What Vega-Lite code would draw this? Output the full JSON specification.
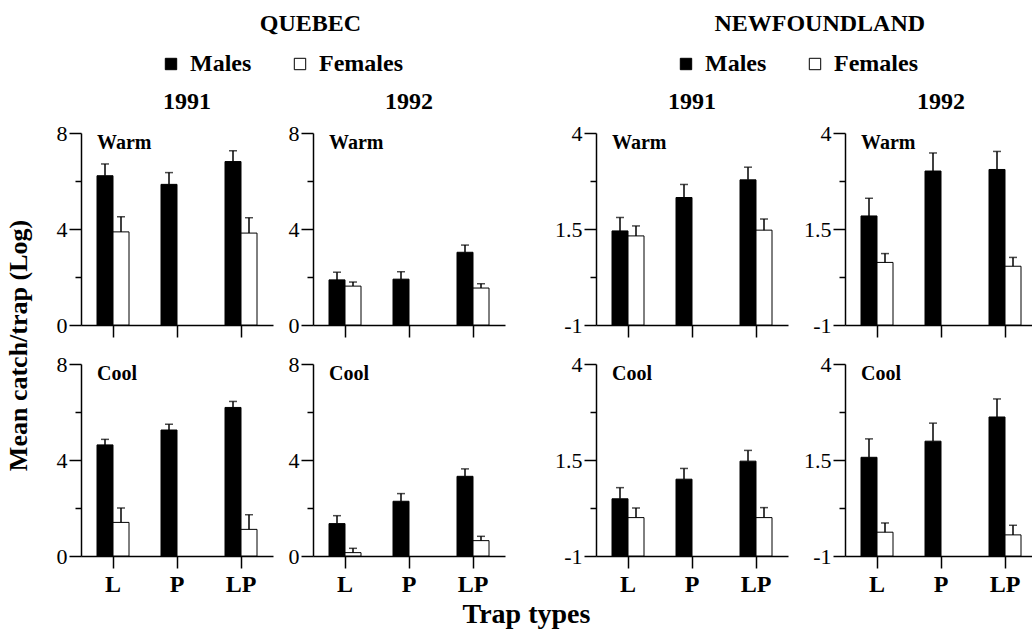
{
  "$schema": "https://vega.github.io/schema/vega-lite/v6.json",
  "padding": {"left": 5, "top": 12, "right": 0, "bottom": 2},
  "background": "white",
  "datasets": {
    "catch": [
      {"region": "QUEBEC", "year": "1991", "temp": "Warm", "trap": "L", "sex": "Males", "mean": 6.22, "upper": 6.71},
      {"region": "QUEBEC", "year": "1991", "temp": "Warm", "trap": "L", "sex": "Females", "mean": 3.88, "upper": 4.51},
      {"region": "QUEBEC", "year": "1991", "temp": "Warm", "trap": "P", "sex": "Males", "mean": 5.86, "upper": 6.35},
      {"region": "QUEBEC", "year": "1991", "temp": "Warm", "trap": "LP", "sex": "Males", "mean": 6.81, "upper": 7.26},
      {"region": "QUEBEC", "year": "1991", "temp": "Warm", "trap": "LP", "sex": "Females", "mean": 3.83, "upper": 4.47},
      {"region": "QUEBEC", "year": "1992", "temp": "Warm", "trap": "L", "sex": "Males", "mean": 1.88, "upper": 2.2},
      {"region": "QUEBEC", "year": "1992", "temp": "Warm", "trap": "L", "sex": "Females", "mean": 1.62, "upper": 1.79},
      {"region": "QUEBEC", "year": "1992", "temp": "Warm", "trap": "P", "sex": "Males", "mean": 1.91, "upper": 2.22},
      {"region": "QUEBEC", "year": "1992", "temp": "Warm", "trap": "LP", "sex": "Males", "mean": 3.03, "upper": 3.33},
      {"region": "QUEBEC", "year": "1992", "temp": "Warm", "trap": "LP", "sex": "Females", "mean": 1.54, "upper": 1.72},
      {"region": "QUEBEC", "year": "1991", "temp": "Cool", "trap": "L", "sex": "Males", "mean": 4.63, "upper": 4.86},
      {"region": "QUEBEC", "year": "1991", "temp": "Cool", "trap": "L", "sex": "Females", "mean": 1.4, "upper": 2.0},
      {"region": "QUEBEC", "year": "1991", "temp": "Cool", "trap": "P", "sex": "Males", "mean": 5.25, "upper": 5.49},
      {"region": "QUEBEC", "year": "1991", "temp": "Cool", "trap": "LP", "sex": "Males", "mean": 6.19, "upper": 6.44},
      {"region": "QUEBEC", "year": "1991", "temp": "Cool", "trap": "LP", "sex": "Females", "mean": 1.11, "upper": 1.72},
      {"region": "QUEBEC", "year": "1992", "temp": "Cool", "trap": "L", "sex": "Males", "mean": 1.35, "upper": 1.68},
      {"region": "QUEBEC", "year": "1992", "temp": "Cool", "trap": "L", "sex": "Females", "mean": 0.14, "upper": 0.32},
      {"region": "QUEBEC", "year": "1992", "temp": "Cool", "trap": "P", "sex": "Males", "mean": 2.28, "upper": 2.6},
      {"region": "QUEBEC", "year": "1992", "temp": "Cool", "trap": "LP", "sex": "Males", "mean": 3.32, "upper": 3.63},
      {"region": "QUEBEC", "year": "1992", "temp": "Cool", "trap": "LP", "sex": "Females", "mean": 0.64, "upper": 0.82},
      {"region": "NEWFOUNDLAND", "year": "1991", "temp": "Warm", "trap": "L", "sex": "Males", "mean": 1.45, "upper": 1.8},
      {"region": "NEWFOUNDLAND", "year": "1991", "temp": "Warm", "trap": "L", "sex": "Females", "mean": 1.32, "upper": 1.58},
      {"region": "NEWFOUNDLAND", "year": "1991", "temp": "Warm", "trap": "P", "sex": "Males", "mean": 2.32, "upper": 2.66},
      {"region": "NEWFOUNDLAND", "year": "1991", "temp": "Warm", "trap": "LP", "sex": "Males", "mean": 2.78, "upper": 3.11},
      {"region": "NEWFOUNDLAND", "year": "1991", "temp": "Warm", "trap": "LP", "sex": "Females", "mean": 1.47, "upper": 1.76},
      {"region": "NEWFOUNDLAND", "year": "1992", "temp": "Warm", "trap": "L", "sex": "Males", "mean": 1.84, "upper": 2.3},
      {"region": "NEWFOUNDLAND", "year": "1992", "temp": "Warm", "trap": "L", "sex": "Females", "mean": 0.63, "upper": 0.86},
      {"region": "NEWFOUNDLAND", "year": "1992", "temp": "Warm", "trap": "P", "sex": "Males", "mean": 3.01, "upper": 3.48},
      {"region": "NEWFOUNDLAND", "year": "1992", "temp": "Warm", "trap": "LP", "sex": "Males", "mean": 3.05, "upper": 3.52},
      {"region": "NEWFOUNDLAND", "year": "1992", "temp": "Warm", "trap": "LP", "sex": "Females", "mean": 0.53, "upper": 0.76},
      {"region": "NEWFOUNDLAND", "year": "1991", "temp": "Cool", "trap": "L", "sex": "Males", "mean": 0.49, "upper": 0.78},
      {"region": "NEWFOUNDLAND", "year": "1991", "temp": "Cool", "trap": "L", "sex": "Females", "mean": 0.0, "upper": 0.25},
      {"region": "NEWFOUNDLAND", "year": "1991", "temp": "Cool", "trap": "P", "sex": "Males", "mean": 1.0, "upper": 1.28},
      {"region": "NEWFOUNDLAND", "year": "1991", "temp": "Cool", "trap": "LP", "sex": "Males", "mean": 1.47, "upper": 1.75},
      {"region": "NEWFOUNDLAND", "year": "1991", "temp": "Cool", "trap": "LP", "sex": "Females", "mean": 0.0, "upper": 0.26},
      {"region": "NEWFOUNDLAND", "year": "1992", "temp": "Cool", "trap": "L", "sex": "Males", "mean": 1.57, "upper": 2.05},
      {"region": "NEWFOUNDLAND", "year": "1992", "temp": "Cool", "trap": "L", "sex": "Females", "mean": -0.38, "upper": -0.14},
      {"region": "NEWFOUNDLAND", "year": "1992", "temp": "Cool", "trap": "P", "sex": "Males", "mean": 1.99, "upper": 2.46},
      {"region": "NEWFOUNDLAND", "year": "1992", "temp": "Cool", "trap": "LP", "sex": "Males", "mean": 2.62, "upper": 3.09},
      {"region": "NEWFOUNDLAND", "year": "1992", "temp": "Cool", "trap": "LP", "sex": "Females", "mean": -0.45, "upper": -0.2}
    ]
  },
  "data": {"name": "catch"},
  "title": {"text": "Mean catch/trap (Log)", "orient": "left", "anchor": "middle", "fontSize": 26, "offset": 24, "dx": -25},
  "vconcat": [
    {
      "title": {"text": "Trap types", "orient": "bottom", "anchor": "middle", "fontSize": 28, "offset": 5, "dx": -20},
      "spacing": 49,
      "resolve": {"legend": {"fill": "independent"}, "scale": {"fill": "independent"}},
      "hconcat": [
        {
          "title": {"text": "QUEBEC", "anchor": "middle", "fontSize": 24, "offset": 16, "dx": 30},
          "spacing": 15,
          "vconcat": [
            {
              "spacing": 15,
              "hconcat": [
                {
                  "width": 192, "height": 192,
                  "title": {"text": "1991", "fontSize": 24, "anchor": "middle", "offset": 8, "dx": 10},
                  "transform": [{"filter": "datum.region === 'QUEBEC' && datum.year === '1991' && datum.temp === 'Warm'"}],
                  "encoding": {
                    "x": {"field": "trap", "type": "nominal", "scale": {"domain": ["L", "P", "LP"], "paddingInner": 0, "paddingOuter": 0}, "axis": {"title": null, "labels": false, "tickSize": 12}},
                    "xOffset": {"field": "sex", "type": "nominal", "scale": {"domain": ["Males", "Females"], "paddingInner": 0, "paddingOuter": 1}}
                  },
                  "layer": [
                    {"mark": {"type": "bar", "stroke": "black", "strokeWidth": 1},
                     "encoding": {
                       "y": {"field": "mean", "type": "quantitative", "scale": {"domain": [0, 8], "nice": false}, "axis": {"title": null, "values": [0, 2, 4, 6, 8], "labelExpr": "datum.value % 4 === 0 ? datum.label : ''", "tickSize": {"condition": {"test": "datum.value % 4 === 0", "value": 12}, "value": 6}}},
                       "fill": {"field": "sex", "type": "nominal", "scale": {"domain": ["Males", "Females"], "range": ["black", "white"]}, "legend": {"title": null, "orient": "top", "offset": 14, "direction": "horizontal", "symbolType": "square", "symbolSize": 130, "symbolStrokeColor": "black", "symbolStrokeWidth": 1, "labelFont": "Liberation Serif", "labelFontSize": 24, "labelFontWeight": "bold", "columnPadding": 36, "labelOffset": 7}}
                     }},
                    {"mark": {"type": "rule", "color": "black", "strokeWidth": 1.5}, "encoding": {"y": {"field": "mean", "type": "quantitative"}, "y2": {"field": "upper"}}},
                    {"mark": {"type": "tick", "color": "black", "thickness": 1.5, "size": 8}, "encoding": {"y": {"field": "upper", "type": "quantitative"}}},
                    {"transform": [{"filter": "datum.trap === 'L' && datum.sex === 'Males'"}], "mark": {"type": "text", "align": "left", "baseline": "top", "fontWeight": "bold", "fontSize": 20, "dx": -8, "dy": 0}, "encoding": {"y": {"datum": 8}, "text": {"field": "temp"}}}
                  ]
                },
                {
                  "width": 192, "height": 192,
                  "title": {"text": "1992", "fontSize": 24, "anchor": "middle", "offset": 8},
                  "transform": [{"filter": "datum.region === 'QUEBEC' && datum.year === '1992' && datum.temp === 'Warm'"}],
                  "encoding": {
                    "x": {"field": "trap", "type": "nominal", "scale": {"domain": ["L", "P", "LP"], "paddingInner": 0, "paddingOuter": 0}, "axis": {"title": null, "labels": false, "tickSize": 12}},
                    "xOffset": {"field": "sex", "type": "nominal", "scale": {"domain": ["Males", "Females"], "paddingInner": 0, "paddingOuter": 1}}
                  },
                  "layer": [
                    {"mark": {"type": "bar", "stroke": "black", "strokeWidth": 1},
                     "encoding": {
                       "y": {"field": "mean", "type": "quantitative", "scale": {"domain": [0, 8], "nice": false}, "axis": {"title": null, "values": [0, 2, 4, 6, 8], "labelExpr": "datum.value % 4 === 0 ? datum.label : ''", "tickSize": {"condition": {"test": "datum.value % 4 === 0", "value": 12}, "value": 6}}},
                       "fill": {"field": "sex", "type": "nominal", "scale": {"domain": ["Males", "Females"], "range": ["black", "white"]}}
                     }},
                    {"mark": {"type": "rule", "color": "black", "strokeWidth": 1.5}, "encoding": {"y": {"field": "mean", "type": "quantitative"}, "y2": {"field": "upper"}}},
                    {"mark": {"type": "tick", "color": "black", "thickness": 1.5, "size": 8}, "encoding": {"y": {"field": "upper", "type": "quantitative"}}},
                    {"transform": [{"filter": "datum.trap === 'L' && datum.sex === 'Males'"}], "mark": {"type": "text", "align": "left", "baseline": "top", "fontWeight": "bold", "fontSize": 20, "dx": -8, "dy": 0}, "encoding": {"y": {"datum": 8}, "text": {"field": "temp"}}}
                  ]
                }
              ]
            },
            {
              "spacing": 15,
              "hconcat": [
                {
                  "width": 192, "height": 192,
                  "transform": [{"filter": "datum.region === 'QUEBEC' && datum.year === '1991' && datum.temp === 'Cool'"}],
                  "encoding": {
                    "x": {"field": "trap", "type": "nominal", "scale": {"domain": ["L", "P", "LP"], "paddingInner": 0, "paddingOuter": 0}, "axis": {"title": null, "labelAngle": 0, "tickSize": 12, "labelFontSize": 24, "labelFontWeight": "bold", "labelPadding": 4}},
                    "xOffset": {"field": "sex", "type": "nominal", "scale": {"domain": ["Males", "Females"], "paddingInner": 0, "paddingOuter": 1}}
                  },
                  "layer": [
                    {"mark": {"type": "bar", "stroke": "black", "strokeWidth": 1},
                     "encoding": {
                       "y": {"field": "mean", "type": "quantitative", "scale": {"domain": [0, 8], "nice": false}, "axis": {"title": null, "values": [0, 2, 4, 6, 8], "labelExpr": "datum.value % 4 === 0 ? datum.label : ''", "tickSize": {"condition": {"test": "datum.value % 4 === 0", "value": 12}, "value": 6}}},
                       "fill": {"field": "sex", "type": "nominal", "scale": {"domain": ["Males", "Females"], "range": ["black", "white"]}}
                     }},
                    {"mark": {"type": "rule", "color": "black", "strokeWidth": 1.5}, "encoding": {"y": {"field": "mean", "type": "quantitative"}, "y2": {"field": "upper"}}},
                    {"mark": {"type": "tick", "color": "black", "thickness": 1.5, "size": 8}, "encoding": {"y": {"field": "upper", "type": "quantitative"}}},
                    {"transform": [{"filter": "datum.trap === 'L' && datum.sex === 'Males'"}], "mark": {"type": "text", "align": "left", "baseline": "top", "fontWeight": "bold", "fontSize": 20, "dx": -8, "dy": 0}, "encoding": {"y": {"datum": 8}, "text": {"field": "temp"}}}
                  ]
                },
                {
                  "width": 192, "height": 192,
                  "transform": [{"filter": "datum.region === 'QUEBEC' && datum.year === '1992' && datum.temp === 'Cool'"}],
                  "encoding": {
                    "x": {"field": "trap", "type": "nominal", "scale": {"domain": ["L", "P", "LP"], "paddingInner": 0, "paddingOuter": 0}, "axis": {"title": null, "labelAngle": 0, "tickSize": 12, "labelFontSize": 24, "labelFontWeight": "bold", "labelPadding": 4}},
                    "xOffset": {"field": "sex", "type": "nominal", "scale": {"domain": ["Males", "Females"], "paddingInner": 0, "paddingOuter": 1}}
                  },
                  "layer": [
                    {"mark": {"type": "bar", "stroke": "black", "strokeWidth": 1},
                     "encoding": {
                       "y": {"field": "mean", "type": "quantitative", "scale": {"domain": [0, 8], "nice": false}, "axis": {"title": null, "values": [0, 2, 4, 6, 8], "labelExpr": "datum.value % 4 === 0 ? datum.label : ''", "tickSize": {"condition": {"test": "datum.value % 4 === 0", "value": 12}, "value": 6}}},
                       "fill": {"field": "sex", "type": "nominal", "scale": {"domain": ["Males", "Females"], "range": ["black", "white"]}}
                     }},
                    {"mark": {"type": "rule", "color": "black", "strokeWidth": 1.5}, "encoding": {"y": {"field": "mean", "type": "quantitative"}, "y2": {"field": "upper"}}},
                    {"mark": {"type": "tick", "color": "black", "thickness": 1.5, "size": 8}, "encoding": {"y": {"field": "upper", "type": "quantitative"}}},
                    {"transform": [{"filter": "datum.trap === 'L' && datum.sex === 'Males'"}], "mark": {"type": "text", "align": "left", "baseline": "top", "fontWeight": "bold", "fontSize": 20, "dx": -8, "dy": 0}, "encoding": {"y": {"datum": 8}, "text": {"field": "temp"}}}
                  ]
                }
              ]
            }
          ]
        },
        {
          "title": {"text": "NEWFOUNDLAND", "anchor": "middle", "fontSize": 24, "offset": 16, "dx": 24},
          "spacing": 15,
          "vconcat": [
            {
              "spacing": 15,
              "hconcat": [
                {
                  "width": 192, "height": 192,
                  "title": {"text": "1991", "fontSize": 24, "anchor": "middle", "offset": 8},
                  "transform": [{"filter": "datum.region === 'NEWFOUNDLAND' && datum.year === '1991' && datum.temp === 'Warm'"}],
                  "encoding": {
                    "x": {"field": "trap", "type": "nominal", "scale": {"domain": ["L", "P", "LP"], "paddingInner": 0, "paddingOuter": 0}, "axis": {"title": null, "labels": false, "tickSize": 12}},
                    "xOffset": {"field": "sex", "type": "nominal", "scale": {"domain": ["Males", "Females"], "paddingInner": 0, "paddingOuter": 1}}
                  },
                  "layer": [
                    {"mark": {"type": "bar", "stroke": "black", "strokeWidth": 1},
                     "encoding": {
                       "y": {"field": "mean", "type": "quantitative", "scale": {"domain": [-1, 4], "nice": false, "zero": false}, "axis": {"title": null, "values": [-1, 0.25, 1.5, 2.75, 4], "labelExpr": "datum.value === -1 ? '-1' : datum.value === 1.5 ? '1.5' : datum.value === 4 ? '4' : ''", "tickSize": {"condition": {"test": "datum.value === -1 || datum.value === 1.5 || datum.value === 4", "value": 12}, "value": 6}}},
                       "y2": {"datum": -1},
                       "fill": {"field": "sex", "type": "nominal", "scale": {"domain": ["Males", "Females"], "range": ["black", "white"]}, "legend": {"title": null, "orient": "top", "offset": 14, "direction": "horizontal", "symbolType": "square", "symbolSize": 130, "symbolStrokeColor": "black", "symbolStrokeWidth": 1, "labelFont": "Liberation Serif", "labelFontSize": 24, "labelFontWeight": "bold", "columnPadding": 36, "labelOffset": 7}}
                     }},
                    {"mark": {"type": "rule", "color": "black", "strokeWidth": 1.5}, "encoding": {"y": {"field": "mean", "type": "quantitative"}, "y2": {"field": "upper"}}},
                    {"mark": {"type": "tick", "color": "black", "thickness": 1.5, "size": 8}, "encoding": {"y": {"field": "upper", "type": "quantitative"}}},
                    {"transform": [{"filter": "datum.trap === 'L' && datum.sex === 'Males'"}], "mark": {"type": "text", "align": "left", "baseline": "top", "fontWeight": "bold", "fontSize": 20, "dx": -8, "dy": 0}, "encoding": {"y": {"datum": 4}, "text": {"field": "temp"}}}
                  ]
                },
                {
                  "width": 192, "height": 192,
                  "title": {"text": "1992", "fontSize": 24, "anchor": "middle", "offset": 8},
                  "transform": [{"filter": "datum.region === 'NEWFOUNDLAND' && datum.year === '1992' && datum.temp === 'Warm'"}],
                  "encoding": {
                    "x": {"field": "trap", "type": "nominal", "scale": {"domain": ["L", "P", "LP"], "paddingInner": 0, "paddingOuter": 0}, "axis": {"title": null, "labels": false, "tickSize": 12}},
                    "xOffset": {"field": "sex", "type": "nominal", "scale": {"domain": ["Males", "Females"], "paddingInner": 0, "paddingOuter": 1}}
                  },
                  "layer": [
                    {"mark": {"type": "bar", "stroke": "black", "strokeWidth": 1},
                     "encoding": {
                       "y": {"field": "mean", "type": "quantitative", "scale": {"domain": [-1, 4], "nice": false, "zero": false}, "axis": {"title": null, "values": [-1, 0.25, 1.5, 2.75, 4], "labelExpr": "datum.value === -1 ? '-1' : datum.value === 1.5 ? '1.5' : datum.value === 4 ? '4' : ''", "tickSize": {"condition": {"test": "datum.value === -1 || datum.value === 1.5 || datum.value === 4", "value": 12}, "value": 6}}},
                       "y2": {"datum": -1},
                       "fill": {"field": "sex", "type": "nominal", "scale": {"domain": ["Males", "Females"], "range": ["black", "white"]}}
                     }},
                    {"mark": {"type": "rule", "color": "black", "strokeWidth": 1.5}, "encoding": {"y": {"field": "mean", "type": "quantitative"}, "y2": {"field": "upper"}}},
                    {"mark": {"type": "tick", "color": "black", "thickness": 1.5, "size": 8}, "encoding": {"y": {"field": "upper", "type": "quantitative"}}},
                    {"transform": [{"filter": "datum.trap === 'L' && datum.sex === 'Males'"}], "mark": {"type": "text", "align": "left", "baseline": "top", "fontWeight": "bold", "fontSize": 20, "dx": -8, "dy": 0}, "encoding": {"y": {"datum": 4}, "text": {"field": "temp"}}}
                  ]
                }
              ]
            },
            {
              "spacing": 15,
              "hconcat": [
                {
                  "width": 192, "height": 192,
                  "transform": [{"filter": "datum.region === 'NEWFOUNDLAND' && datum.year === '1991' && datum.temp === 'Cool'"}],
                  "encoding": {
                    "x": {"field": "trap", "type": "nominal", "scale": {"domain": ["L", "P", "LP"], "paddingInner": 0, "paddingOuter": 0}, "axis": {"title": null, "labelAngle": 0, "tickSize": 12, "labelFontSize": 24, "labelFontWeight": "bold", "labelPadding": 4}},
                    "xOffset": {"field": "sex", "type": "nominal", "scale": {"domain": ["Males", "Females"], "paddingInner": 0, "paddingOuter": 1}}
                  },
                  "layer": [
                    {"mark": {"type": "bar", "stroke": "black", "strokeWidth": 1},
                     "encoding": {
                       "y": {"field": "mean", "type": "quantitative", "scale": {"domain": [-1, 4], "nice": false, "zero": false}, "axis": {"title": null, "values": [-1, 0.25, 1.5, 2.75, 4], "labelExpr": "datum.value === -1 ? '-1' : datum.value === 1.5 ? '1.5' : datum.value === 4 ? '4' : ''", "tickSize": {"condition": {"test": "datum.value === -1 || datum.value === 1.5 || datum.value === 4", "value": 12}, "value": 6}}},
                       "y2": {"datum": -1},
                       "fill": {"field": "sex", "type": "nominal", "scale": {"domain": ["Males", "Females"], "range": ["black", "white"]}}
                     }},
                    {"mark": {"type": "rule", "color": "black", "strokeWidth": 1.5}, "encoding": {"y": {"field": "mean", "type": "quantitative"}, "y2": {"field": "upper"}}},
                    {"mark": {"type": "tick", "color": "black", "thickness": 1.5, "size": 8}, "encoding": {"y": {"field": "upper", "type": "quantitative"}}},
                    {"transform": [{"filter": "datum.trap === 'L' && datum.sex === 'Males'"}], "mark": {"type": "text", "align": "left", "baseline": "top", "fontWeight": "bold", "fontSize": 20, "dx": -8, "dy": 0}, "encoding": {"y": {"datum": 4}, "text": {"field": "temp"}}}
                  ]
                },
                {
                  "width": 192, "height": 192,
                  "transform": [{"filter": "datum.region === 'NEWFOUNDLAND' && datum.year === '1992' && datum.temp === 'Cool'"}],
                  "encoding": {
                    "x": {"field": "trap", "type": "nominal", "scale": {"domain": ["L", "P", "LP"], "paddingInner": 0, "paddingOuter": 0}, "axis": {"title": null, "labelAngle": 0, "tickSize": 12, "labelFontSize": 24, "labelFontWeight": "bold", "labelPadding": 4}},
                    "xOffset": {"field": "sex", "type": "nominal", "scale": {"domain": ["Males", "Females"], "paddingInner": 0, "paddingOuter": 1}}
                  },
                  "layer": [
                    {"mark": {"type": "bar", "stroke": "black", "strokeWidth": 1},
                     "encoding": {
                       "y": {"field": "mean", "type": "quantitative", "scale": {"domain": [-1, 4], "nice": false, "zero": false}, "axis": {"title": null, "values": [-1, 0.25, 1.5, 2.75, 4], "labelExpr": "datum.value === -1 ? '-1' : datum.value === 1.5 ? '1.5' : datum.value === 4 ? '4' : ''", "tickSize": {"condition": {"test": "datum.value === -1 || datum.value === 1.5 || datum.value === 4", "value": 12}, "value": 6}}},
                       "y2": {"datum": -1},
                       "fill": {"field": "sex", "type": "nominal", "scale": {"domain": ["Males", "Females"], "range": ["black", "white"]}}
                     }},
                    {"mark": {"type": "rule", "color": "black", "strokeWidth": 1.5}, "encoding": {"y": {"field": "mean", "type": "quantitative"}, "y2": {"field": "upper"}}},
                    {"mark": {"type": "tick", "color": "black", "thickness": 1.5, "size": 8}, "encoding": {"y": {"field": "upper", "type": "quantitative"}}},
                    {"transform": [{"filter": "datum.trap === 'L' && datum.sex === 'Males'"}], "mark": {"type": "text", "align": "left", "baseline": "top", "fontWeight": "bold", "fontSize": 20, "dx": -8, "dy": 0}, "encoding": {"y": {"datum": 4}, "text": {"field": "temp"}}}
                  ]
                }
              ]
            }
          ]
        }
      ]
    }
  ],
  "config": {
    "font": "Liberation Serif",
    "view": {"stroke": null},
    "axis": {"domainColor": "black", "tickColor": "black", "labelColor": "black", "labelFont": "Liberation Serif", "labelFontSize": 22, "grid": false, "domainWidth": 1.5, "tickWidth": 1.5},
    "title": {"font": "Liberation Serif", "fontWeight": "bold", "fontSize": 24, "color": "black"},
    "legend": {"labelFont": "Liberation Serif", "labelColor": "black", "layout": {"top": {"anchor": "middle"}}},
    "text": {"font": "Liberation Serif", "color": "black"}
  }
}
